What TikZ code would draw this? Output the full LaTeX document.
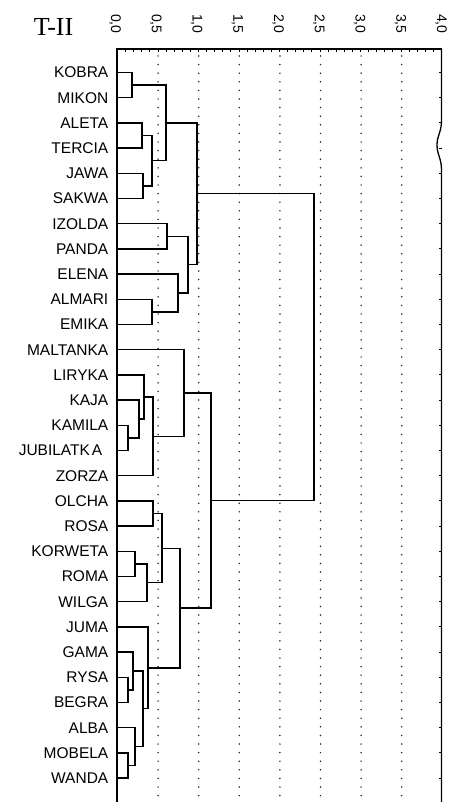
\documentclass[tikz,border=0pt]{standalone}
\usepackage{fontspec}
\setmainfont{Liberation Sans}
\newfontfamily\titlefont{Liberation Serif}
\usetikzlibrary{calc}

% join two clusters (#2, #3) at distance position #4 (x in px); result is coordinate #1
\newcommand\dmerge[4]{%
  \coordinate (#1-m) at ($(#2)!0.5!(#3)$);
  \coordinate (#1) at (#4,0 |- #1-m);
  \draw[dlink] (#2) -| (#1) |- (#3);
}

\begin{document}
\begin{tikzpicture}[x=1pt,y=-1pt,
  dlink/.style={line width=1.3pt, line join=miter, draw=black},
  frameline/.style={line width=1.3pt, draw=black},
  gridline/.style={line width=1.7pt, dash pattern=on 0pt off 8.6pt, line cap=round, draw=black!85},
  leaf/.style={font=\fontsize{15.5}{15.5}\selectfont, anchor=east, inner sep=0pt, text=black},
  ticklbl/.style={font=\fontsize{14}{14}\selectfont, rotate=-90, anchor=west, inner sep=0pt, text=black}]
\useasboundingbox (0,0) rectangle (449,802);

% title
\node[font=\titlefont\fontsize{26}{26}\selectfont, anchor=base, inner sep=0pt] (title) at (53.5,36) {T-II};

% scale labels
\foreach \k/\a/\b in {0/0/0,1/0/5,2/1/0,3/1/5,4/2/0,5/2/5,6/3/0,7/3/5,8/4/0}
  \node[ticklbl] (tick\k) at ({115+40.75*\k},14) {\a,\b};

% dotted grid
\foreach \k in {1,...,7}
  \draw[gridline] ({117.5+40.6*\k},56) -- ({117.5+40.6*\k},802);

% frame: top with minor ticks, left axis, right edge
\draw[frameline] (117,802) -- (117,49) -- (441.5,49);
\foreach \k in {1,...,39}
  \draw[line width=1pt] ({117.5+8.1*\k},49) -- ({117.5+8.1*\k},52);
\draw[frameline] (441.5,49) -- (441.5,120)
  .. controls (441.5,133) and (437,135) .. (437,145)
  .. controls (437,155) and (441.5,158) .. (441.5,170) -- (441.5,802);
\foreach \i in {0,...,28}
  \draw[line width=1pt] (441.5,{72.5+25.2*\i}) -- (439,{72.5+25.2*\i});

% leaves
\foreach \n [count=\i from 0] in {KOBRA,MIKON,ALETA,TERCIA,JAWA,SAKWA,IZOLDA,PANDA,ELENA,ALMARI,EMIKA,MALTANKA,LIRYKA,KAJA,KAMILA,JUBILATKA,ZORZA,OLCHA,ROSA,KORWETA,ROMA,WILGA,JUMA,GAMA,RYSA,BEGRA,ALBA,MOBELA,WANDA}
  \coordinate (\n-l) at (117,{72.5+25.2*\i});
\foreach \n [count=\i from 0] in {KOBRA,MIKON,ALETA,TERCIA,JAWA,SAKWA,IZOLDA,PANDA,ELENA,ALMARI,EMIKA,MALTANKA,LIRYKA,KAJA,KAMILA}
  \node[leaf] (\n) at (108.5,{72.5+25.2*\i}) {\n};
\node[leaf] (JUBILATKA) at (102.5,{72.5+25.2*15}) {JUBILATK\kern2pt A};
\foreach \n [count=\i from 16] in {ZORZA,OLCHA,ROSA,KORWETA,ROMA,WILGA,JUMA,GAMA,RYSA,BEGRA,ALBA,MOBELA,WANDA}
  \node[leaf] (\n) at (108.5,{72.5+25.2*\i}) {\n};

% upper group
\dmerge{km}{KOBRA-l}{MIKON-l}{132}
\dmerge{at}{ALETA-l}{TERCIA-l}{142}
\dmerge{js}{JAWA-l}{SAKWA-l}{143}
\dmerge{atjs}{at}{js}{152}
\dmerge{kmat}{km}{atjs}{166}
\dmerge{ip}{IZOLDA-l}{PANDA-l}{167}
\dmerge{ae}{ALMARI-l}{EMIKA-l}{152}
\dmerge{eae}{ELENA-l}{ae}{178}
\dmerge{ipe}{ip}{eae}{188}
\dmerge{top}{kmat}{ipe}{197}

% lower group
\dmerge{kj}{KAMILA-l}{JUBILATKA-l}{128}
\dmerge{kkj}{KAJA-l}{kj}{139}
\dmerge{lk}{LIRYKA-l}{kkj}{144}
\dmerge{lz}{lk}{ZORZA-l}{153}
\dmerge{ml}{MALTANKA-l}{lz}{184}
\dmerge{or}{OLCHA-l}{ROSA-l}{153}
\dmerge{kr}{KORWETA-l}{ROMA-l}{135}
\dmerge{krw}{kr}{WILGA-l}{147}
\dmerge{ork}{or}{krw}{162}
\dmerge{rb}{RYSA-l}{BEGRA-l}{128}
\dmerge{grb}{GAMA-l}{rb}{133}
\dmerge{mw}{MOBELA-l}{WANDA-l}{128}
\dmerge{amw}{ALBA-l}{mw}{135}
\dmerge{ga}{grb}{amw}{143}
\dmerge{jg}{JUMA-l}{ga}{148}
\dmerge{oj}{ork}{jg}{180}
\dmerge{bot}{ml}{oj}{211}

% root
\dmerge{root}{top}{bot}{314}
\end{tikzpicture}
\end{document}
